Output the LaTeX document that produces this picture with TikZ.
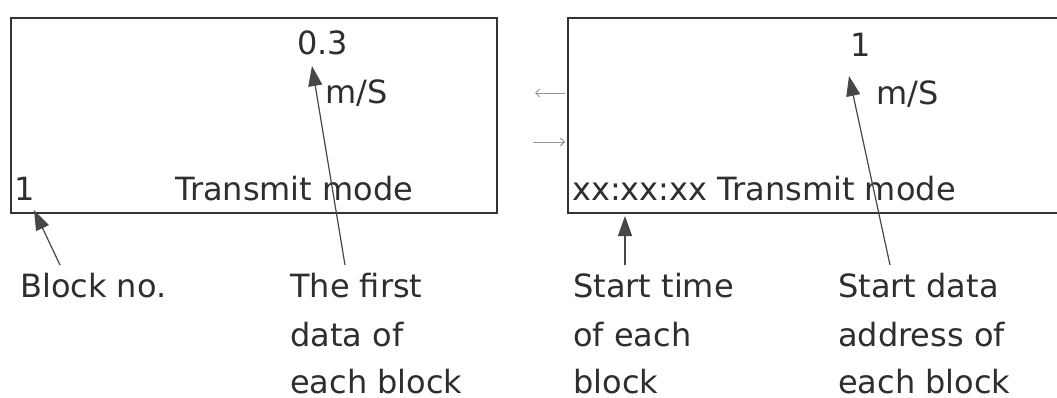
\documentclass[tikz,border=0pt]{standalone}
\usepackage{fontspec}
\setmainfont{DejaVu Sans}
\usetikzlibrary{arrows.meta}
\begin{document}
\begin{tikzpicture}[x=1pt,y=-1pt,
 lbl/.style={anchor=base west, inner sep=0pt, text depth=0pt, font=\fontsize{32}{49}\selectfont, text=black!82},
 box/.style={draw=black!80, line width=2pt, inner sep=0pt, anchor=north west},
 ptr/.style={draw=black!72, line width=1.2pt, -{Triangle[length=20pt,width=14pt]}},
 small/.style={draw=black!42, line width=0.9pt, -{Straight Barb[length=4pt,width=8pt]}}]
\useasboundingbox[fill=white] (0,0) rectangle (1057,397);
\clip (0,0) rectangle (1057,397);
% blocks
\node[box, minimum width=486pt, minimum height=195pt] (b1) at (10,17) {};
\node[box, minimum width=510pt, minimum height=195pt] (b2) at (567,17) {};
% small arrows between blocks
\coordinate (la) at (565,93);
\coordinate (lb) at (535,93);
\coordinate (ra) at (533,142);
\coordinate (rb) at (565,142);
\draw[small] (la) -- (lb);
\draw[small] (ra) -- (rb);
% texts in block 1
\node[lbl] (v1) at (297,54) {0.3};
\node[lbl] (u1) at (325,103) {m/S};
\node[lbl] (n1) at (14,200) {1};
\node[lbl] (t1) at (175,200) {Transmit mode};
% texts in block 2
\node[lbl] (v2) at (850,56) {1};
\node[lbl] (u2) at (876,104) {m/S};
\node[lbl] (t2) at (572,200) {xx:xx:xx Transmit mode};
% labels below
\node[lbl] (lb1) at (20,297) {Block no.};
\node[lbl] (lf1) at (290,297) {The first};
\node[lbl] (lf2) at (290,346) {data of};
\node[lbl] (lf3) at (290,393) {each block};
\node[lbl] (ls1) at (573,297) {Start time};
\node[lbl] (ls2) at (573,346) {of each};
\node[lbl] (ls3) at (573,393) {block};
\node[lbl] (ld1) at (838,297) {Start data};
\node[lbl] (ld2) at (838,346) {address of};
\node[lbl] (ld3) at (838,393) {each block};
% pointers
\coordinate (p1s) at (60,265);  \coordinate (p1e) at (34,210);
\coordinate (p2s) at (345,265); \coordinate (p2e) at (312,66);
\coordinate (p3s) at (625,265); \coordinate (p3e) at (625,216);
\coordinate (p4s) at (890,265); \coordinate (p4e) at (849,76);
\draw[ptr] (p1s) -- (p1e);
\draw[ptr] (p2s) -- (p2e);
\draw[ptr] (p3s) -- (p3e);
\draw[ptr] (p4s) -- (p4e);
\end{tikzpicture}
\end{document}
